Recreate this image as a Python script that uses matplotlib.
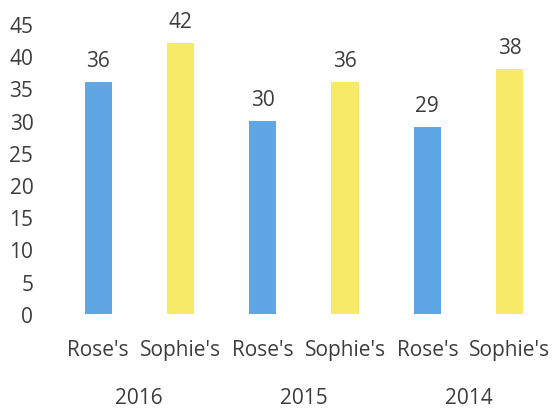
import matplotlib
matplotlib.use("Agg")
from matplotlib import pyplot as plt

plt.rcParams['font.family'] = ['Open Sans', 'DejaVu Sans']

years = ["2016", "2015", "2014"]
names = ["Rose's", "Sophie's"]
rose = [36, 30, 29]
sophie = [42, 36, 38]

blue = "#5fa6e6"
yellow = "#f7ea66"
text_c = "#3c3c3c"

fig = plt.figure(figsize=(5.53, 4.10), dpi=100)
ax = fig.add_axes([0.103, 0.232, 0.893, 0.707])

x_pos = []
vals = []
cols = []
labels = []
for i in range(len(years)):
    x_pos += [2 * i, 2 * i + 1]
    vals += [rose[i], sophie[i]]
    cols += [blue, yellow]
    labels += names

bars = ax.bar(x_pos, vals, width=0.33, color=cols)
for b, v in zip(bars, vals):
    ax.annotate(str(v), (b.get_x() + b.get_width() / 2, v), xytext=(0, 8),
                textcoords="offset points", ha="center", va="bottom",
                fontsize=15, color=text_c)

ax.set_xlim(-0.5, 5.5)
ax.set_ylim(0, 45)
ax.set_yticks(range(0, 46, 5))
ax.set_xticks(x_pos)
ax.set_xticklabels(labels)
ax.tick_params(length=0, labelsize=15, labelcolor=text_c)
ax.tick_params(axis="x", pad=18)
ax.tick_params(axis="y", pad=17)
for s in ax.spines.values():
    s.set_visible(False)

# group labels
for i, yr in enumerate(years):
    ax.text(2 * i + 0.5, -0.287, yr, transform=ax.get_xaxis_transform(),
            ha="center", va="center", fontsize=15, color=text_c)

plt.savefig("out.png")
